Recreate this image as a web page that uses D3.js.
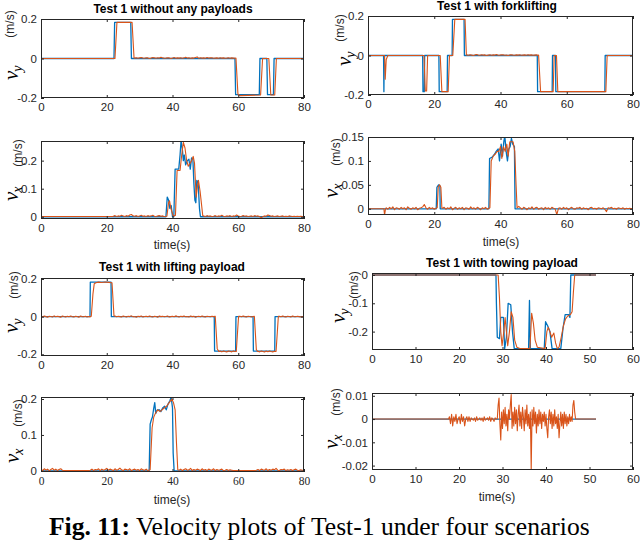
<!DOCTYPE html>
<html><head><meta charset="utf-8">
<script src="https://cdn.jsdelivr.net/npm/d3@7/dist/d3.min.js"></script>
<style>body{margin:0;background:#fff}svg{display:block}</style>
</head><body><svg id="c" width="640" height="543"></svg>
<script>
// ---------------- DATA ----------------
const xTicks80 = [0, 20, 40, 60, 80];
const xTicks60 = [0, 10, 20, 30, 40, 50, 60];
const yTicksVy = [-0.2, 0, 0.2];
const yTicksP3 = [0, 0.1, 0.2];
const yTicksP4 = [0, 0.05, 0.1, 0.15];
const yTicksP6 = [-0.2, -0.1, 0];
const yTicksP7 = [0, 0.1, 0.2];
const yTicksP8 = [-0.02, -0.01, 0, 0.01];

const titles = ["Test 1 without any payloads", "Test 1 with forklifting", "Test 1 with lifting payload", "Test 1 with towing payload"];
const caption = ["Fig. 11:", " Velocity plots of Test-1 under four scenarios"];

// Panel 1: vy, no payload
const p1Blue = [[0,0],[22.2,0],[22.4,0.183],[27.3,0.183],[27.5,0],[59.0,0],[59.2,-0.183],[66.4,-0.183],[66.6,0],[68.7,0],[68.9,-0.183],[70.7,-0.183],[70.9,0],[80,0]];
const p1OrangeKeys = [[0,0],[22.5,0],[23.1,0.183],[27.7,0.183],[28.3,0.003],[59.3,0.002],[59.9,-0.18],[60.5,-0.188],[66.8,-0.185],[67.4,0],[69.3,0],[69.9,-0.185],[71.1,-0.185],[71.6,0],[80,0]];
const p1OrangeNoise = [{t0:28.5,t1:59.0,dt:0.5,base:0,v:[0.002,0.004,0.001,0.003,0.005,0.002,0.001,0.004,0.003,0.000,0.002,0.005,0.003,0.001,0.004,0.002,0.006,0.003,0.001,0.002,0.004,0.003,0.000,0.002,0.005,0.001,0.003,0.002,0.004,0.001,0.003,0.006,0.002,0.004,0.001,0.003,0.002,0.005,0.008,0.001,0.004,0.002,0.003,0.001,0.005,0.002,0.003,0.004,0.001,0.002,0.003,0.001,0.004,0.002,0.003,0.001,0.002,0.004,0.001,0.003,0.002,0.001]}];

// Panel 2: vy, forklifting
const p2Blue = [[0,0],[4.7,0],[4.8,-0.183],[4.9,0],[16.5,0],[16.6,-0.183],[17.0,-0.183],[17.1,0],[21.4,0],[21.5,-0.183],[23.9,-0.183],[24.0,0],[25.4,0],[25.5,0.183],[29.0,0.183],[29.1,0],[51.1,0],[51.2,-0.183],[55.6,-0.183],[55.7,0],[56.6,0],[56.7,-0.183],[71.5,-0.183],[71.6,0],[80,0]];
const p2OrangeKeys = [[0,0],[5.0,0],[5.2,-0.12],[5.5,-0.02],[6,0],[16.9,0],[17.3,-0.18],[17.7,-0.18],[18.0,0],[21.8,0],[22.3,-0.183],[24.2,-0.183],[24.6,0],[25.6,0],[26.2,0.183],[29.3,0.183],[29.7,0.003],[51.5,0.002],[52.1,-0.183],[55.9,-0.183],[56.2,0],[56.9,0],[57.3,-0.183],[71.8,-0.183],[72.2,0],[80,0]];
const p2OrangeNoise = [{t0:29.8,t1:51.3,dt:0.5,base:0,v:[0.003,0.001,0.004,0.002,0.000,0.003,0.005,0.002,0.001,0.004,0.002,0.003,0.000,0.002,0.004,0.001,0.003,0.002,0.005,0.001,0.002,0.004,0.003,0.001,0.002,0.000,0.003,0.004,0.002,0.001,0.003,0.002,0.004,0.001,0.002,0.003,0.001,0.004,0.002,0.003,0.001,0.002,0.003,0.001]}];

// Panel 3: vx, no payload
const p3Blue = [[0,0],[38.0,0],[38.4,0.07],[38.8,0.06],[39.2,0.03],[39.6,0.04],[40.0,0],[40.4,0],[40.8,0.17],[41.9,0.17],[42.3,0.22],[42.6,0.27],[43.0,0.24],[43.3,0.2],[43.6,0.22],[44.0,0.185],[44.5,0.2],[45.0,0.205],[45.4,0.17],[45.8,0.21],[46.2,0.205],[46.5,0.12],[46.8,0.06],[47.1,0.05],[47.4,0.13],[47.8,0.12],[48.2,0.03],[48.5,0],[80,0]];
const p3OrangeKeys = [[0,0.001],[21.9,0.001],[38.3,0.002],[38.8,0.05],[39.1,0.057],[39.5,0.03],[40.2,0.003],[40.9,0.005],[41.4,0.165],[42.3,0.165],[42.8,0.22],[43.3,0.265],[43.8,0.245],[44.3,0.2],[44.8,0.18],[45.3,0.19],[45.8,0.2],[46.3,0.215],[46.7,0.19],[47.2,0.07],[47.6,0.11],[47.9,0.13],[48.4,0.09],[49.2,0.004],[80,0.001]];
const p3OrangeNoise = [
  {t0:22,t1:37.5,dt:0.5,base:0,v:[0.002,0.004,0.001,0.003,0.002,0.005,0.003,0.001,0.004,0.002,0.006,0.008,0.003,0.002,0.004,0.001,0.003,0.005,0.002,0.003,0.001,0.004,0.002,0.003,0.005,0.002,0.001,0.003,0.004,0.002,0.003,0.001]},
  {t0:49.5,t1:79.5,dt:0.5,base:0,v:[0.003,0.001,0.004,0.002,0.003,0.001,0.002,0.004,0.001,0.003,0.002,0.005,0.002,0.001,0.003,0.002,0.004,0.001,0.003,0.002,0.006,0.003,0.001,0.002,0.004,0.002,0.003,0.001,0.002,0.003,0.001,0.004,0.002,0.003,0.001,-0.004,0.001,0.003,0.002,0.006,0.004,0.002,0.003,0.001,0.002,0.003,0.001,0.002,0.003,0.001,0.002,0.001,0.003,0.002,0.001,0.002,0.001,0.002,0.001,0.002,0.001]}
];

// Panel 4: vx, forklifting
const p4Blue = [[0,0],[20.6,0],[20.8,0.045],[21.3,0.05],[21.7,0.048],[21.8,0],[36.5,0],[36.7,0.105],[37.5,0.108],[38.3,0.115],[38.7,0.12],[39.3,0.125],[39.7,0.1],[40.2,0.135],[40.6,0.11],[41.0,0.14],[41.3,0.152],[41.7,0.12],[42.1,0.1],[42.5,0.125],[42.9,0.13],[43.3,0.147],[43.7,0.135],[44.2,0.13],[44.4,0],[80,0]];
const p4OrangeKeys = [[0,0],[4.8,0],[5.0,-0.013],[5.3,0.0],[20.9,0.002],[21.2,0.045],[21.6,0.05],[22.0,0.045],[22.3,0.002],[36.8,0.002],[37.2,0.1],[37.8,0.11],[38.5,0.115],[39.0,0.12],[39.5,0.12],[40.0,0.13],[40.4,0.105],[40.9,0.13],[41.4,0.12],[41.9,0.135],[42.3,0.11],[42.8,0.14],[43.3,0.14],[43.8,0.14],[44.3,0.12],[44.7,0.05],[45.0,0.002],[80,0.001]];
const p4OrangeNoise = [
  {t0:5.5,t1:20.5,dt:0.5,base:0,v:[0.002,-0.001,0.003,0.000,0.004,-0.002,0.002,0.001,-0.001,0.003,0.000,0.002,-0.002,0.004,0.001,-0.001,0.002,0.000,0.003,-0.002,0.001,0.002,0.004,0.009,0.002,-0.001,0.003,0.000,0.002,-0.001,0.001]},
  {t0:22.5,t1:36.5,dt:0.5,base:0,v:[0.001,0.003,-0.001,0.002,0.000,0.004,-0.002,0.001,0.003,-0.001,0.002,0.000,0.003,-0.002,0.002,0.001,-0.001,0.004,0.000,0.002,-0.001,0.003,0.001,-0.002,0.002,0.000,0.003,-0.001,0.001]},
  {t0:45.5,t1:79.5,dt:0.5,base:0,v:[0.005,0.002,-0.001,0.003,0.001,-0.002,0.002,0.000,0.004,-0.001,0.002,0.003,-0.001,0.001,0.002,-0.002,0.003,0.000,0.002,-0.001,0.003,0.001,0.000,-0.012,0.001,0.002,-0.001,0.003,0.000,0.002,-0.002,0.001,0.003,0.000,-0.001,0.002,0.001,0.003,-0.001,0.002,0.000,0.001,-0.002,0.002,0.003,0.000,0.001,-0.001,0.002,0.001,0.000,0.002,-0.001,-0.006,0.002,0.001,0.003,0.000,0.001,-0.001,0.002,0.001,0.000,0.002,-0.001,0.001,0.000,0.001,0.000]}
];

// Panel 5: vy, lifting payload
const p5Blue = [[0,0],[14.9,0],[15.0,0.183],[21.3,0.183],[21.4,0],[52.7,0],[52.8,-0.183],[59.2,-0.183],[59.3,0],[64.5,0],[64.6,-0.183],[71.1,-0.183],[71.2,0],[80,0]];
const p5OrangeKeys = [[15.3,0.002],[15.8,0.12],[16.2,0.175],[16.7,0.18],[17.5,0.183],[18.5,0.181],[19.5,0.184],[20.5,0.182],[21.6,0.18],[22.2,0.003],[53.0,0.002],[53.6,-0.17],[54.1,-0.185],[59.4,-0.185],[60.1,0.002],[64.9,0.002],[65.5,-0.175],[65.9,-0.185],[71.5,-0.185],[72.2,0.002]];
const p5OrangeNoise = [
  {t0:0,t1:15,dt:0.5,base:0,v:[0.002,-0.002,0.003,0.000,-0.003,0.002,0.001,-0.002,0.004,-0.001,0.002,0.000,-0.003,0.003,0.001,-0.002,0.002,-0.001,0.003,0.000,-0.002,0.002,0.001,-0.003,0.003,0.000,-0.001,0.002,-0.002,0.001,0.000]},
  {t0:22.5,t1:52.5,dt:0.5,base:0,v:[0.003,-0.001,0.002,0.000,-0.002,0.003,0.001,-0.002,0.002,0.000,0.004,-0.001,0.001,-0.003,0.002,0.000,0.003,-0.002,0.001,0.002,-0.001,0.003,0.000,-0.002,0.002,0.001,-0.003,0.003,0.000,0.002,-0.001,0.001,0.003,-0.002,0.000,0.002,-0.001,0.004,0.001,-0.002,0.002,0.000,0.003,-0.001,0.001,-0.002,0.003,0.000,0.002,-0.003,0.001,0.002,-0.001,0.003,0.000,-0.002,0.002,0.001,-0.001,0.002,0.000]},
  {t0:54.5,t1:59,dt:0.5,base:-0.185,v:[0.002,-0.002,0.003,0.000,-0.003,0.002,0.001,-0.002,0.003,0.000]},
  {t0:60.5,t1:64.5,dt:0.5,base:0,v:[0.002,-0.001,0.003,0.000,-0.002,0.002,0.001,-0.002,0.001]},
  {t0:66,t1:71,dt:0.5,base:-0.185,v:[0.001,-0.002,0.003,0.000,-0.003,0.002,-0.001,0.003,0.000,-0.002,0.001]},
  {t0:72.5,t1:80,dt:0.5,base:0,v:[0.002,-0.001,0.003,0.000,-0.002,0.002,0.001,-0.002,0.003,0.000,-0.001,0.002,0.000,-0.002,0.001,0.000]}
];

// Panel 6: vy, towing payload
const p6Blue = [[0,0],[28.5,0],[28.6,-0.1],[28.8,-0.22],[29.3,-0.225],[29.6,-0.15],[30.2,-0.15],[30.5,-0.26],[30.9,-0.22],[31.3,-0.1],[31.9,-0.105],[32.3,-0.2],[32.7,-0.26],[36.0,-0.26],[36.2,-0.09],[36.4,-0.26],[39.6,-0.26],[39.9,-0.165],[40.4,-0.18],[40.9,-0.2],[41.4,-0.26],[43.4,-0.26],[43.9,-0.19],[44.4,-0.14],[45.2,-0.14],[45.5,-0.15],[45.7,0],[51.5,0]];
const p6Orange = [[0,0],[29.0,0],[29.3,-0.08],[29.6,-0.2],[29.9,-0.25],[30.3,-0.2],[30.6,-0.15],[30.9,-0.2],[31.2,-0.25],[31.6,-0.2],[32.0,-0.13],[32.4,-0.15],[32.8,-0.23],[33.3,-0.255],[34,-0.26],[36.3,-0.26],[36.5,-0.2],[36.7,-0.135],[37.1,-0.17],[37.5,-0.23],[38,-0.255],[39.8,-0.26],[40.2,-0.2],[40.5,-0.185],[40.9,-0.2],[41.3,-0.22],[41.8,-0.205],[42.2,-0.24],[42.6,-0.26],[43.0,-0.255],[43.5,-0.22],[44.0,-0.18],[44.5,-0.155],[45.0,-0.145],[45.6,-0.14],[46.0,-0.13],[46.3,-0.06],[46.6,0],[51.5,0]];

// Panel 7: vx, lifting payload
const p7Blue = [[0,0],[32.9,0],[33.2,0.13],[33.5,0.14],[33.9,0.15],[34.3,0.175],[34.6,0.19],[34.9,0.16],[35.4,0.17],[36.0,0.17],[36.5,0.165],[37.0,0.175],[37.6,0.18],[38.1,0.17],[38.6,0.185],[39.2,0.195],[39.6,0.205],[40.0,0.175],[40.2,0.05],[40.5,0],[80,0]];
const p7OrangeKeys = [[7,0.001],[14.5,0.001],[33.2,0.003],[33.8,0.12],[34.3,0.15],[34.8,0.16],[35.5,0.17],[36.2,0.165],[36.8,0.17],[37.5,0.175],[38.2,0.18],[39.0,0.19],[39.8,0.2],[40.3,0.19],[40.8,0.17],[41.2,0.08],[41.6,0.003],[59,0.001],[65,0.001],[80,0.001]];
const p7OrangeNoise = [
  {t0:0,t1:6.5,dt:0.5,base:0,v:[0.004,0.001,0.006,0.002,0.005,0.000,0.004,0.007,0.002,0.005,0.001,0.004,0.006,0.002]},
  {t0:15,t1:32.5,dt:0.5,base:0,v:[0.002,0.005,0.001,0.004,0.003,0.006,0.001,0.005,0.002,0.004,0.007,0.002,0.005,0.003,0.001,0.006,0.002,0.004,0.008,0.003,0.001,0.005,0.004,0.002,0.006,0.001,0.003,0.005,0.002,0.004,0.001,0.006,0.003,0.002,0.005,0.001]},
  {t0:42,t1:58.5,dt:0.5,base:0,v:[0.002,0.005,0.001,0.004,0.006,0.002,0.003,0.007,0.001,0.004,0.002,0.005,0.003,0.001,0.006,0.002,0.004,0.001,0.005,0.003,0.002,0.006,0.001,0.004,0.002,0.003,0.005,0.001,0.002,0.004,0.001,0.003,0.002,0.001]},
  {t0:65.5,t1:79.5,dt:0.5,base:0,v:[0.002,0.004,0.001,0.005,0.003,0.002,0.006,0.001,0.004,0.002,0.005,0.003,0.007,0.002,0.001,0.004,0.003,0.005,0.001,0.003,0.002,0.004,0.001,0.003,0.005,0.002,0.001,0.003,0.002]}
];

// Panel 8: vx, towing payload
const p8Blue = [[0,0],[51.5,0]];
const p8OrangeKeys = [[0,0],[17.6,0],[46.9,0],[51.5,0]];
const p8OrangeNoise = [
  {t0:17.8,t1:28.6,dt:0.25,base:0,v:[0.001,-0.002,0.002,-0.003,0.001,-0.001,0.002,-0.002,0.000,0.001,-0.002,0.002,-0.001,0.001,-0.003,0.000,0.001,-0.001,0.001,-0.001,0.0005,0.000,-0.0005,0.0005,-0.001,0.001,-0.0005,0.000,0.0005,-0.0005,0.0005,-0.001,0.001,-0.0005,0.000,0.0005,-0.0005,0.001,-0.001,0.0005,0.000,-0.001,0.0005,0.000]},
  {t0:28.8,t1:46.8,dt:0.2,base:0,v:[0.000,0.006,0.009,-0.002,-0.009,0.003,-0.004,0.004,-0.002,0.005,-0.003,0.002,-0.005,0.004,0.000,0.006,0.0105,-0.004,0.003,-0.003,0.005,-0.002,0.004,-0.005,0.002,0.006,-0.003,0.003,-0.004,0.005,0.001,-0.005,0.004,-0.002,0.006,-0.003,0.002,-0.004,0.003,-0.022,0.004,-0.003,0.005,-0.002,0.003,-0.006,0.002,-0.003,0.004,-0.002,0.003,-0.004,0.002,-0.001,0.003,-0.003,0.002,-0.004,-0.008,0.001,0.004,-0.002,0.003,-0.004,0.002,-0.003,0.004,-0.002,0.001,-0.004,0.002,-0.008,-0.002,0.003,-0.003,0.002,-0.004,0.003,-0.002,0.002,-0.003,0.001,-0.002,0.002,-0.001,0.001,-0.001,0.006,0.008,0.003,0.000]}
];

// ---------------- BUILD ----------------
function build(keys, noises) {
  const pts = keys.slice();
  (noises || []).forEach(n => n.v.forEach((v, k) => {
    const t = n.t0 + k * n.dt;
    if (t <= n.t1 + 1e-9) pts.push([t, n.base + v]);
  }));
  pts.sort((a, b) => a[0] - b[0]);
  return pts;
}

const SANS = "'Liberation Sans', Arial, Helvetica, sans-serif";
const SERIF = "'Liberation Serif', 'Times New Roman', serif";
const BLUE = "#0072BD", ORANGE = "#D95319", AX = "#262626";

const panels = [
  {box:[41,19,304,98], xd:[0,80], yd:[-0.2,0.2], xt:xTicks80, yt:yTicksVy, blue:p1Blue, orange:build(p1OrangeKeys,p1OrangeNoise), sub:"y", vl:[18,80], ul:[14,24], title:[titles[0],173,13]},
  {box:[368,16,633,95], xd:[0,80], yd:[-0.2,0.2], xt:xTicks80, yt:yTicksVy, blue:p2Blue, orange:build(p2OrangeKeys,p2OrangeNoise), sub:"y", vl:[351,66], ul:[344,28], title:[titles[1],497,10]},
  {box:[41,141,304,219], xd:[0,80], yd:[-0.008,0.27], xt:xTicks80, yt:yTicksP3, blue:p3Blue, orange:build(p3OrangeKeys,p3OrangeNoise), sub:"x", vl:[18,201], ul:[22,153], xlab:[172,249]},
  {box:[368,137,633,215], xd:[0,80], yd:[-0.013,0.15], xt:xTicks80, yt:yTicksP4, blue:p4Blue, orange:build(p4OrangeKeys,p4OrangeNoise), sub:"x", vl:[338,198], ul:[340,152], xlab:[501,246]},
  {box:[41,278,304,356], xd:[0,80], yd:[-0.209,0.205], xt:xTicks80, yt:yTicksVy, blue:p5Blue, orange:build(p5OrangeKeys,p5OrangeNoise), sub:"y", vl:[18,333], ul:[18,285], title:[titles[2],172,271]},
  {box:[372,273,633,350], xd:[0,60], yd:[-0.265,0.007], xt:xTicks60, yt:yTicksP6, blue:p6Blue, orange:p6Orange, sub:"y", vl:[345,323], ul:[358,285], title:[titles[3],502,267]},
  {box:[41,397,304,472], xd:[0,80], yd:[-0.003,0.2056], xt:xTicks80, yt:yTicksP7, blue:p7Blue, orange:build(p7OrangeKeys,p7OrangeNoise), sub:"x", vl:[19,463], ul:[22,413], xlab:[172,504], serifX:true},
  {box:[372,393,633,470], xd:[0,60], yd:[-0.0219,0.0112], xt:xTicks60, yt:yTicksP8, blue:p8Blue, orange:build(p8OrangeKeys,p8OrangeNoise), sub:"x", vl:[338,449], ul:[340,402], xlab:[497,501]}
];

const svg = d3.select("#c");
const defs = svg.append("defs");
const fmt = d => d === 0 ? "0" : String(d);

panels.forEach((p, i) => {
  const [x0, y0, x1, y1] = p.box;
  const x = d3.scaleLinear().domain(p.xd).range([x0, x1]);
  const y = d3.scaleLinear().domain(p.yd).range([y1, y0]);
  const g = svg.append("g");
  defs.append("clipPath").attr("id", "cl" + i).append("rect")
    .attr("x", x0).attr("y", y0).attr("width", x1 - x0).attr("height", y1 - y0);

  const line = d3.line().x(d => x(d[0])).y(d => y(d[1]));
  const gl = g.append("g").attr("clip-path", `url(#cl${i})`);
  gl.append("path").datum(p.blue).attr("d", line).attr("fill", "none")
    .attr("stroke", BLUE).attr("stroke-width", 1.3).attr("stroke-linejoin", "round");
  gl.append("path").datum(p.orange).attr("d", line).attr("fill", "none")
    .attr("stroke", ORANGE).attr("stroke-width", 1.1).attr("stroke-linejoin", "round");

  const style = (sel, fam) => {
    sel.select(".domain").remove();
    sel.selectAll(".tick line").attr("stroke", AX);
    sel.selectAll("text").attr("fill", AX).attr("font-family", fam || SANS).attr("font-size", 11.5);
    sel.attr("font-family", null).attr("font-size", null);
  };
  g.append("g").attr("transform", `translate(0,${y1})`)
    .call(d3.axisBottom(x).tickValues(p.xt).tickSize(-3).tickPadding(5).tickFormat(d3.format("d")))
    .call(s => style(s, p.serifX ? SERIF : SANS));
  g.append("g").attr("transform", `translate(0,${y0})`)
    .call(d3.axisTop(x).tickValues(p.xt).tickSize(-3).tickFormat(""))
    .call(s => style(s));
  g.append("g").attr("transform", `translate(${x0},0)`)
    .call(d3.axisLeft(y).tickValues(p.yt).tickSize(-3).tickPadding(4).tickFormat(fmt))
    .call(s => style(s));
  g.append("g").attr("transform", `translate(${x1},0)`)
    .call(d3.axisRight(y).tickValues(p.yt).tickSize(-3).tickFormat(""))
    .call(s => style(s));

  g.append("rect").attr("x", x0 + 0.5).attr("y", y0 + 0.5).attr("width", x1 - x0 - 1).attr("height", y1 - y0 - 1)
    .attr("fill", "none").attr("stroke", AX).attr("stroke-width", 1);

  // y label: v with subscript
  const vt = g.append("text").attr("transform", `translate(${p.vl[0]},${p.vl[1]}) rotate(-90)`)
    .attr("font-family", SERIF).attr("font-style", "italic").attr("fill", "#000");
  vt.append("tspan").attr("font-size", 21).text("v");
  vt.append("tspan").attr("font-size", 14).attr("dx", -1).attr("dy", 4).text(p.sub);
  g.append("text").attr("transform", `translate(${p.ul[0]},${p.ul[1]}) rotate(-90)`)
    .attr("text-anchor", "middle").attr("font-family", SANS).attr("font-size", 12).attr("fill", AX).text("(m/s)");

  if (p.title) {
    g.append("text").attr("x", p.title[1]).attr("y", p.title[2]).attr("text-anchor", "middle")
      .attr("font-family", SANS).attr("font-weight", "bold").attr("font-size", 12).attr("fill", "#000").text(p.title[0]);
  }
  if (p.xlab) {
    g.append("text").attr("x", p.xlab[0]).attr("y", p.xlab[1]).attr("text-anchor", "middle")
      .attr("font-family", SANS).attr("font-size", 12).attr("fill", AX).text("time(s)");
  }
});

// caption
const cap = svg.append("text").attr("x", 49).attr("y", 535).attr("font-family", SERIF).attr("font-size", 24).attr("fill", "#000");
cap.append("tspan").attr("font-weight", "bold").text(caption[0]);
cap.append("tspan").text(caption[1]);
const w = cap.node().getComputedTextLength();
cap.attr("font-size", 24 * 541 / w);
</script></body></html>
